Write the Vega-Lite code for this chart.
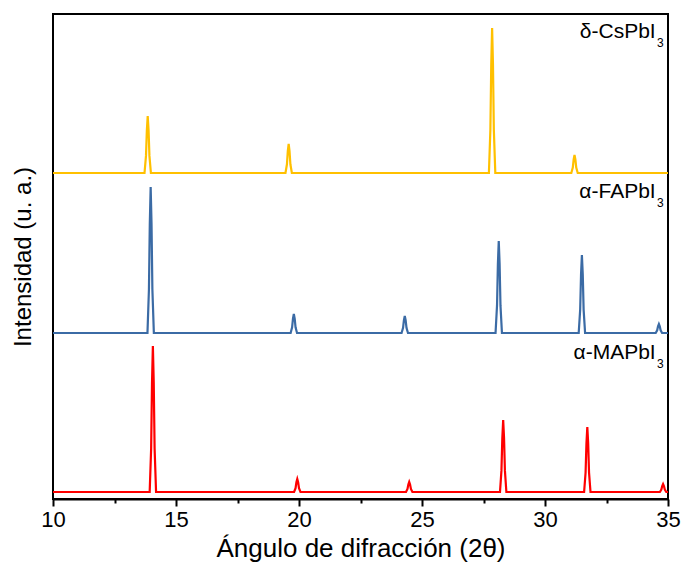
{
  "$schema": "https://vega.github.io/schema/vega-lite/v6.json",
  "autosize": {"type": "none"},
  "padding": {"left": 53, "top": 14, "right": 14, "bottom": 72},
  "width": 615,
  "height": 485,
  "config": {
    "font": "Liberation Sans",
    "view": {"stroke": "black", "strokeWidth": 2}
  },
  "datasets": {
    "xrd": [
      {"s": "Cs", "x": 10, "y": 326},
      {"s": "Cs", "x": 13.72, "y": 326},
      {"s": "Cs", "x": 13.78, "y": 343.1},
      {"s": "Cs", "x": 13.815, "y": 368.8},
      {"s": "Cs", "x": 13.85, "y": 383},
      {"s": "Cs", "x": 13.885, "y": 368.8},
      {"s": "Cs", "x": 13.92, "y": 343.1},
      {"s": "Cs", "x": 13.98, "y": 326},
      {"s": "Cs", "x": 19.45, "y": 326},
      {"s": "Cs", "x": 19.51, "y": 334.7},
      {"s": "Cs", "x": 19.545, "y": 347.8},
      {"s": "Cs", "x": 19.58, "y": 355},
      {"s": "Cs", "x": 19.615, "y": 347.8},
      {"s": "Cs", "x": 19.65, "y": 334.7},
      {"s": "Cs", "x": 19.71, "y": 326},
      {"s": "Cs", "x": 27.72, "y": 326},
      {"s": "Cs", "x": 27.78, "y": 369.5},
      {"s": "Cs", "x": 27.815, "y": 434.8},
      {"s": "Cs", "x": 27.85, "y": 471},
      {"s": "Cs", "x": 27.885, "y": 434.8},
      {"s": "Cs", "x": 27.92, "y": 369.5},
      {"s": "Cs", "x": 27.98, "y": 326},
      {"s": "Cs", "x": 31.07, "y": 326},
      {"s": "Cs", "x": 31.13, "y": 331.4},
      {"s": "Cs", "x": 31.165, "y": 339.5},
      {"s": "Cs", "x": 31.2, "y": 344},
      {"s": "Cs", "x": 31.235, "y": 339.5},
      {"s": "Cs", "x": 31.27, "y": 331.4},
      {"s": "Cs", "x": 31.33, "y": 326},
      {"s": "Cs", "x": 35, "y": 326},

      {"s": "FA", "x": 10, "y": 166},
      {"s": "FA", "x": 13.84, "y": 166},
      {"s": "FA", "x": 13.9, "y": 209.8},
      {"s": "FA", "x": 13.935, "y": 275.5},
      {"s": "FA", "x": 13.97, "y": 312},
      {"s": "FA", "x": 14.005, "y": 275.5},
      {"s": "FA", "x": 14.04, "y": 209.8},
      {"s": "FA", "x": 14.1, "y": 166},
      {"s": "FA", "x": 19.66, "y": 166},
      {"s": "FA", "x": 19.72, "y": 171.7},
      {"s": "FA", "x": 19.755, "y": 180.3},
      {"s": "FA", "x": 19.79, "y": 185},
      {"s": "FA", "x": 19.825, "y": 180.3},
      {"s": "FA", "x": 19.86, "y": 171.7},
      {"s": "FA", "x": 19.92, "y": 166},
      {"s": "FA", "x": 24.17, "y": 166},
      {"s": "FA", "x": 24.23, "y": 171.1},
      {"s": "FA", "x": 24.265, "y": 178.8},
      {"s": "FA", "x": 24.3, "y": 183},
      {"s": "FA", "x": 24.335, "y": 178.8},
      {"s": "FA", "x": 24.37, "y": 171.1},
      {"s": "FA", "x": 24.43, "y": 166},
      {"s": "FA", "x": 27.99, "y": 166},
      {"s": "FA", "x": 28.05, "y": 193.6},
      {"s": "FA", "x": 28.085, "y": 235},
      {"s": "FA", "x": 28.12, "y": 258},
      {"s": "FA", "x": 28.155, "y": 235},
      {"s": "FA", "x": 28.19, "y": 193.6},
      {"s": "FA", "x": 28.25, "y": 166},
      {"s": "FA", "x": 31.37, "y": 166},
      {"s": "FA", "x": 31.43, "y": 189.4},
      {"s": "FA", "x": 31.465, "y": 224.5},
      {"s": "FA", "x": 31.5, "y": 244},
      {"s": "FA", "x": 31.535, "y": 224.5},
      {"s": "FA", "x": 31.57, "y": 189.4},
      {"s": "FA", "x": 31.63, "y": 166},
      {"s": "FA", "x": 34.5, "y": 166},
      {"s": "FA", "x": 34.56, "y": 168.7},
      {"s": "FA", "x": 34.595, "y": 172.8},
      {"s": "FA", "x": 34.63, "y": 175},
      {"s": "FA", "x": 34.665, "y": 172.8},
      {"s": "FA", "x": 34.7, "y": 168.7},
      {"s": "FA", "x": 34.76, "y": 166},
      {"s": "FA", "x": 35, "y": 166},

      {"s": "MA", "x": 10, "y": 7},
      {"s": "MA", "x": 13.93, "y": 7},
      {"s": "MA", "x": 13.99, "y": 50.8},
      {"s": "MA", "x": 14.025, "y": 116.5},
      {"s": "MA", "x": 14.06, "y": 153},
      {"s": "MA", "x": 14.095, "y": 116.5},
      {"s": "MA", "x": 14.13, "y": 50.8},
      {"s": "MA", "x": 14.19, "y": 7},
      {"s": "MA", "x": 19.8, "y": 7},
      {"s": "MA", "x": 19.86, "y": 10.9},
      {"s": "MA", "x": 19.895, "y": 16.75},
      {"s": "MA", "x": 19.93, "y": 20},
      {"s": "MA", "x": 19.965, "y": 16.75},
      {"s": "MA", "x": 20.0, "y": 10.9},
      {"s": "MA", "x": 20.06, "y": 7},
      {"s": "MA", "x": 24.35, "y": 7},
      {"s": "MA", "x": 24.41, "y": 10},
      {"s": "MA", "x": 24.445, "y": 14.5},
      {"s": "MA", "x": 24.48, "y": 17},
      {"s": "MA", "x": 24.515, "y": 14.5},
      {"s": "MA", "x": 24.55, "y": 10},
      {"s": "MA", "x": 24.61, "y": 7},
      {"s": "MA", "x": 28.17, "y": 7},
      {"s": "MA", "x": 28.23, "y": 28.6},
      {"s": "MA", "x": 28.265, "y": 61},
      {"s": "MA", "x": 28.3, "y": 79},
      {"s": "MA", "x": 28.335, "y": 61},
      {"s": "MA", "x": 28.37, "y": 28.6},
      {"s": "MA", "x": 28.43, "y": 7},
      {"s": "MA", "x": 31.59, "y": 7},
      {"s": "MA", "x": 31.65, "y": 26.5},
      {"s": "MA", "x": 31.685, "y": 55.75},
      {"s": "MA", "x": 31.72, "y": 72},
      {"s": "MA", "x": 31.755, "y": 55.75},
      {"s": "MA", "x": 31.79, "y": 26.5},
      {"s": "MA", "x": 31.85, "y": 7},
      {"s": "MA", "x": 34.67, "y": 7},
      {"s": "MA", "x": 34.73, "y": 9.4},
      {"s": "MA", "x": 34.765, "y": 13},
      {"s": "MA", "x": 34.8, "y": 15},
      {"s": "MA", "x": 34.835, "y": 13},
      {"s": "MA", "x": 34.87, "y": 9.4},
      {"s": "MA", "x": 34.93, "y": 7},
      {"s": "MA", "x": 35, "y": 7}
    ],
    "labels": [
      {"x": 34.5, "y": 461, "text": "δ-CsPbI"},
      {"x": 34.5, "y": 301, "text": "α-FAPbI"},
      {"x": 34.5, "y": 140, "text": "α-MAPbI"}
    ],
    "subs": [
      {"x": 34.55, "y": 452, "text": "3"},
      {"x": 34.55, "y": 292, "text": "3"},
      {"x": 34.55, "y": 131, "text": "3"}
    ]
  },
  "layer": [
    {
      "data": {"name": "xrd"},
      "mark": {"type": "line", "strokeWidth": 2.2, "clip": true},
      "encoding": {
        "x": {
          "field": "x", "type": "quantitative",
          "scale": {"domain": [10, 35], "nice": false, "zero": false},
          "axis": {
            "title": "Ángulo de difracción (2θ)",
            "values": [10, 12.5, 15, 17.5, 20, 22.5, 25, 27.5, 30, 32.5, 35],
            "labelExpr": "datum.value % 5 === 0 ? datum.label : ''",
            "grid": false,
            "domainColor": "black", "domainWidth": 2,
            "tickColor": "black", "tickWidth": 2,
            "tickSize": {"condition": {"test": "datum.value % 5 !== 0", "value": 4}, "value": 7},
            "labelFontSize": 22, "labelColor": "black", "labelPadding": 3,
            "labelFlush": false, "labelOverlap": false,
            "titleFontSize": 26, "titleFontWeight": "normal", "titleColor": "black", "titlePadding": 5
          }
        },
        "y": {
          "field": "y", "type": "quantitative",
          "scale": {"domain": [0, 485], "nice": false, "zero": false},
          "axis": {
            "title": "Intensidad (u. a.)",
            "labels": false, "ticks": false, "domain": false, "grid": false,
            "titleFontSize": 24, "titleFontWeight": "normal", "titleColor": "black", "titlePadding": 18
          }
        },
        "color": {
          "field": "s", "type": "nominal",
          "scale": {"domain": ["Cs", "FA", "MA"], "range": ["#FFC000", "#3B6BA5", "#FF0000"]},
          "legend": null
        }
      }
    },
    {
      "data": {"name": "labels"},
      "mark": {"type": "text", "align": "right", "baseline": "alphabetic", "fontSize": 21, "color": "black"},
      "encoding": {
        "x": {"field": "x", "type": "quantitative"},
        "y": {"field": "y", "type": "quantitative"},
        "text": {"field": "text"}
      }
    },
    {
      "data": {"name": "subs"},
      "mark": {"type": "text", "align": "left", "baseline": "alphabetic", "fontSize": 12, "color": "black"},
      "encoding": {
        "x": {"field": "x", "type": "quantitative"},
        "y": {"field": "y", "type": "quantitative"},
        "text": {"field": "text"}
      }
    }
  ]
}
